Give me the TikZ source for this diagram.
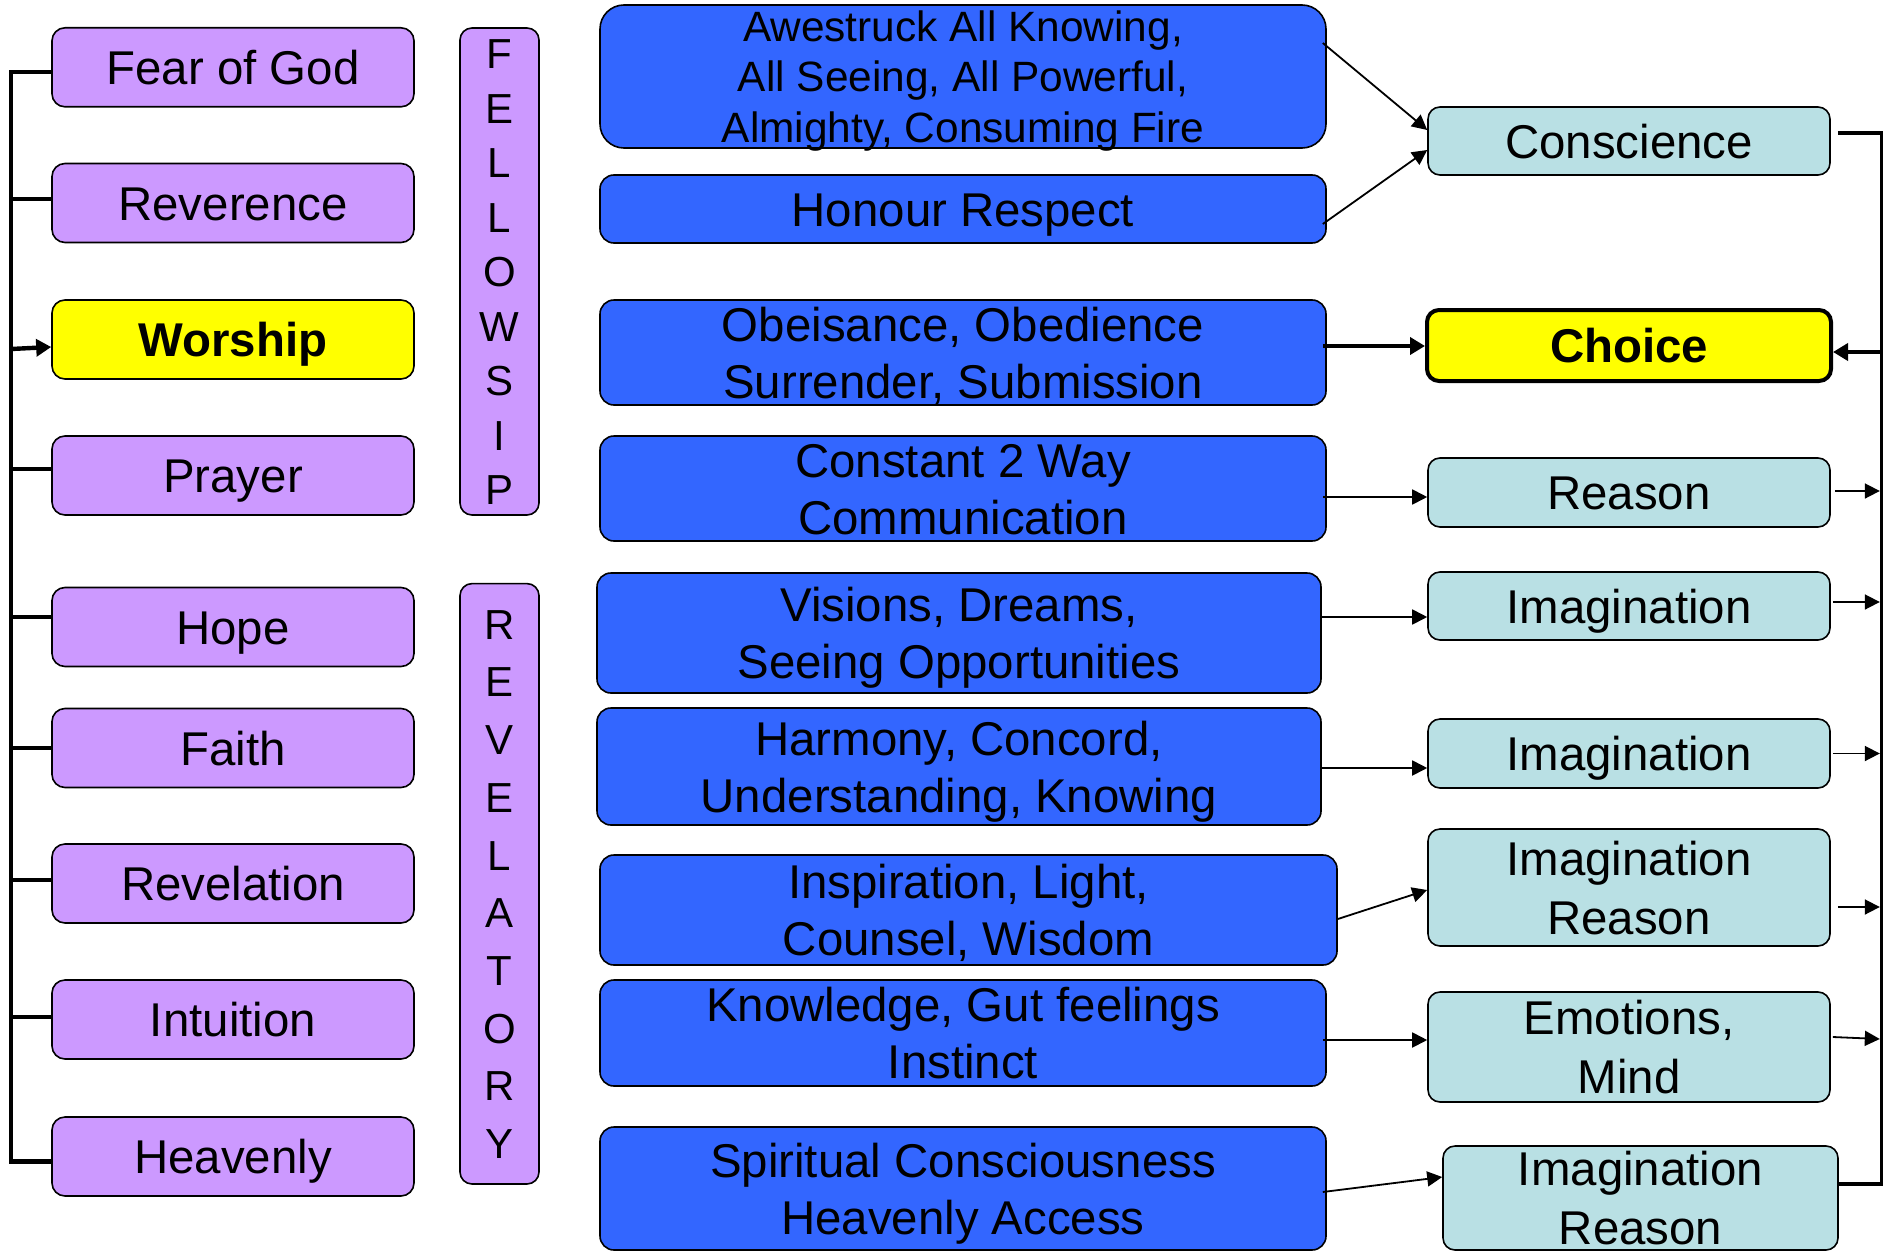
\documentclass[tikz,border=0pt]{standalone}
\usepackage{fontspec}
\setmainfont{Liberation Sans}
\usetikzlibrary{arrows.meta,calc}
\definecolor{purp}{RGB}{204,153,255}
\definecolor{yel}{RGB}{255,255,0}
\definecolor{blu}{RGB}{51,102,255}
\definecolor{cya}{RGB}{185,224,228}
\newcommand\mlines[1]{\begin{tabular}[b]{@{}c@{}}#1\end{tabular}}
\begin{document}
\begin{tikzpicture}[x=0.5pt,y=-0.5pt,
  base/.style={draw=black, line width=0.8pt, inner sep=0pt, text=black, text height=17pt, text depth=0pt},
  pbox/.style={base, fill=purp, rounded corners=6.5pt, minimum width=181pt, minimum height=39.5pt, font=\fontsize{23.7}{28}\selectfont},
  ybox/.style={pbox, fill=yel, font=\fontsize{23.7}{28}\selectfont\bfseries},
  vbox/.style={base, fill=purp, rounded corners=6pt, minimum width=39.5pt},
  bbox/.style={base, fill=blu, rounded corners=7pt, minimum width=363pt, font=\fontsize{23.7}{28.5}\selectfont},
  two/.style={text height=45.5pt},
  cbox/.style={base, fill=cya, rounded corners=6pt, minimum width=201pt, font=\fontsize{23.7}{29.5}\selectfont},
  ctwo/.style={text height=46.5pt},
  chbox/.style={cbox, fill=yel, line width=2pt, minimum width=202pt, font=\fontsize{23.7}{29.5}\selectfont\bfseries},
  spine/.style={draw=black, line width=2.2pt},
  thin/.style={draw=black, line width=0.9pt, -{Triangle[length=7.5pt,width=7.5pt]}},
  thickarr/.style={draw=black, line width=2.2pt, -{Triangle[length=7.5pt,width=8.5pt]}}
]
\fill[white] (0,0) rectangle (1883,1252);
\useasboundingbox (0,0) rectangle (1883,1252);

% left column
\node[pbox] (fear)  at (233,67.3)  {Fear of God};
\node[pbox] (rev)   at (233,203)   {Reverence};
\node[ybox] (wor)   at (233,339.5) {Worship};
\node[pbox] (pra)   at (233,475.5) {Prayer};
\node[pbox] (hope)  at (233,627)   {Hope};
\node[pbox] (faith) at (233,748)   {Faith};
\node[pbox] (revel) at (233,883.5) {Revelation};
\node[pbox] (intu)  at (233,1019.5){Intuition};
\node[pbox] (heav)  at (233,1156.5){Heavenly};

% vertical words
\node[vbox, minimum height=243.5pt, text height=233pt, font=\fontsize{21}{27.25}\selectfont] (fel) at (499.5,271.5)
  {\mlines{F\\E\\L\\L\\O\\W\\S\\I\\P}};
\node[vbox, minimum height=300.2pt, text height=274.7pt, font=\fontsize{21}{28.85}\selectfont] (rvl) at (499.5,883.8)
  {\mlines{R\\E\\V\\E\\L\\A\\T\\O\\R\\Y}};

% middle column
\node[bbox, rounded corners=12pt, minimum height=71.5pt, text height=65.6pt, font=\fontsize{21.2}{25.2}\selectfont] (aw) at (963,76.5)
  {\mlines{Awestruck All Knowing,\\All Seeing, All Powerful,\\Almighty, Consuming Fire}};
\node[bbox, minimum height=34pt] (hon) at (963,209) {Honour Respect};
\node[bbox, two, minimum height=52.5pt] (obe) at (963,352.5) {\mlines{Obeisance, Obedience\\Surrender, Submission}};
\node[bbox, two, minimum height=52.5pt] (con2) at (963,488.5) {\mlines{Constant 2 Way\\Communication}};
\node[bbox, two, minimum width=362pt, minimum height=60pt] (vis) at (959,633) {\mlines{Visions, Dreams,\\Seeing Opportunities}};
\node[bbox, two, minimum width=362pt, minimum height=58.5pt] (har) at (959,766.5) {\mlines{Harmony, Concord,\\Understanding, Knowing}};
\node[bbox, two, minimum width=368.5pt, minimum height=55pt] (insp) at (968.5,910) {\mlines{Inspiration, Light,\\Counsel, Wisdom}};
\node[bbox, two, minimum height=53pt] (know) at (963,1033) {\mlines{Knowledge, Gut feelings\\Instinct}};
\node[bbox, two, minimum height=61.5pt] (spir) at (963,1188.5) {\mlines{Spiritual Consciousness\\Heavenly Access}};

% right column
\node[cbox, minimum height=34pt] (cons) at (1629,141) {Conscience};
\node[chbox, minimum height=35.5pt] (cho) at (1629,345.5) {Choice};
\node[cbox, minimum height=34.5pt] (reas) at (1629,492.5) {Reason};
\node[cbox, minimum height=34pt] (im1) at (1629,606) {Imagination};
\node[cbox, minimum height=34.5pt] (im2) at (1629,753.5) {Imagination};
\node[cbox, ctwo, minimum height=58.5pt] (ir1) at (1629,887.5) {\mlines{Imagination\\Reason}};
\node[cbox, ctwo, minimum height=55pt] (emo) at (1629,1047) {\mlines{Emotions,\\Mind}};
\node[cbox, ctwo, minimum width=197.5pt, minimum height=52pt] (ir2) at (1640.5,1198) {\mlines{Imagination\\Reason}};

% left spine
\draw[spine] ($(fear.west)+(0,5)$) -| ($(heav.west)+(-40,5)$) -- ($(heav.west)+(0,5)$);
\draw[spine] ($(rev.west)+(-40,-4)$) -- ($(rev.west)+(0,-4)$);
\draw[spine] ($(pra.west)+(-40,-6.5)$) -- ($(pra.west)+(0,-6.5)$);
\draw[spine] ($(hope.west)+(-40,-10)$) -- ($(hope.west)+(0,-10)$);
\draw[spine] ($(faith.west)+(-40,0)$) -- ($(faith.west)+(0,0)$);
\draw[spine] ($(revel.west)+(-40,-3.5)$) -- ($(revel.west)+(0,-3.5)$);
\draw[spine] ($(intu.west)+(-40,-2.5)$) -- ($(intu.west)+(0,-2.5)$);
\draw[thickarr] ($(wor.west)+(-40,9.5)$) -- ($(wor.west)+(0,7.5)$);

% middle to right
\draw[thin] ($(aw.east)+(-4,-33.5)$) -- ($(cons.west)+(0,-11)$);
\draw[thin] ($(hon.east)+(-4,15)$) -- ($(cons.west)+(0,9)$);
\draw[thickarr] ($(obe.east)+(-4,-6.5)$) -- ($(cho.west)+(0,0.5)$);
\draw[thin] ($(con2.east)+(-4,8.5)$) -- ($(reas.west)+(0,4.5)$);
\draw[thin] ($(vis.east)+(0,-16)$) -- ($(im1.west)+(0,11)$);
\draw[thin] ($(har.east)+(0,1.5)$) -- ($(im2.west)+(0,14.5)$);
\draw[thin] ($(insp.east)+(0,9)$) -- ($(ir1.west)+(0,2.5)$);
\draw[thin] ($(know.east)+(-4,7)$) -- ($(emo.west)+(0,-7)$);
\draw[thin] ($(spir.east)+(-4,3.5)$) -- ($(ir2.west)+(0,-21)$);

% right spine
\draw[spine] ($(cons.east)+(7,-8)$) -- ($(cons.east)+(51,-8)$) |- ($(ir2.east)+(-1,-14)$);
\draw[thickarr] ($(cho.east)+(51,6.5)$) -- ($(cho.east)+(0,6.5)$);
\draw[thin] ($(reas.east)+(4,-1.5)$) -- ($(reas.east)+(49,-1.5)$);
\draw[thin] ($(im1.east)+(2,-4)$) -- ($(im1.east)+(49,-4)$);
\draw[thin] ($(im2.east)+(2,0)$) -- ($(im2.east)+(49,0)$);
\draw[thin] ($(ir1.east)+(7,19.5)$) -- ($(ir1.east)+(49,19.5)$);
\draw[thin] ($(emo.east)+(2,-10)$) -- ($(emo.east)+(49,-8)$);
\end{tikzpicture}
\end{document}
